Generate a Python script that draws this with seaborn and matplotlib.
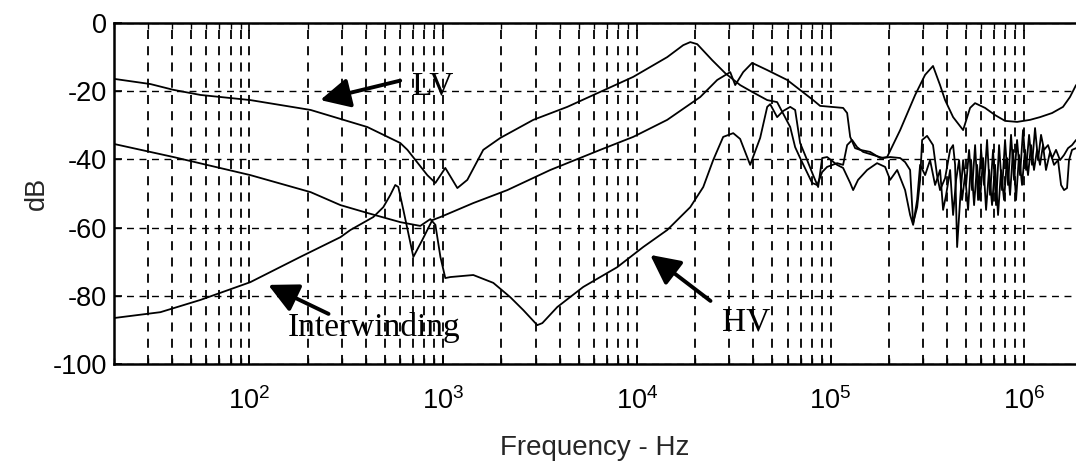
import numpy as np
import pandas as pd
import seaborn as sns
import matplotlib
matplotlib.use("Agg")
import matplotlib.pyplot as plt
from matplotlib.ticker import LogLocator, FixedLocator, NullFormatter

# ---------------- data ----------------
lv_freq = [20.1, 30.8, 40.5, 55.9, 101, 207, 406, 601, 654, 828, 912, 1026, 1184, 1333,
           1611, 1973, 2920, 4373, 6471, 9576, 14350, 17350, 18870, 20500, 24490, 28580,
           34140, 39370, 47100, 53000, 54950, 61900, 65650, 69660, 80340, 85290, 90530,
           96000, 108100, 116100, 121800, 129200, 137100, 147300, 165800, 186800, 203100,
           228800, 242700, 257500, 266900, 280000, 290000, 297000, 315000, 338100, 354500,
           367500, 390200, 414200, 429200, 439600, 450200, 466500, 483500, 500900, 519100,
           537900, 557500, 577600, 598600, 620300, 642800, 666000, 690200, 715200, 741300,
           768000, 795900, 824900, 854800, 885900, 918100, 951300, 985800, 1022000, 1059000,
           1097000, 1137000, 1178000, 1221000, 1265000, 1327000, 1392000, 1459000, 1530000,
           1605000, 1683000, 1765000, 1851000]
lv_db = [-16.4, -17.9, -19.6, -21.1, -22.6, -25.5, -30.5, -35.2, -37.2, -44.6, -46.9, -42.5,
         -48.4, -46.0, -37.2, -33.7, -28.4, -24.6, -20.2, -15.8, -10.0, -6.5, -5.6, -6.2,
         -10.9, -14.7, -18.2, -20.2, -22.6, -23.2, -24.9, -30.5, -36.4, -39.6, -46.9, -47.5,
         -43.7, -42.2, -41.1, -41.6, -35.8, -34.3, -36.4, -37.8, -38.7, -39.6, -39.3, -39.6,
         -40.8, -43.1, -58.7, -54.0, -46.0, -34.3, -33.1, -35.8, -44.6, -49.0, -45.5, -37.2,
         -35.8, -41.6, -65.7, -51.9, -40.2, -47.5, -37.2, -49.0, -35.8, -51.9, -37.2, -47.5,
         -34.3, -50.4, -37.2, -53.4, -35.8, -49.0, -34.3, -47.5, -32.8, -46.0, -34.3, -44.6,
         -31.4, -43.1, -32.8, -41.6, -30.8, -40.2, -32.8, -37.2, -35.8, -39.6, -37.2, -40.2,
         -38.7, -36.7, -35.8, -34.3]

hv_freq = [20.1, 40.5, 101, 207, 295, 406, 601, 762, 859, 912, 968, 1026, 1089, 1431, 1815,
           2221, 2594, 3062, 3252, 3883, 5288, 7920, 10780, 14350, 18870, 22020, 24780,
           27910, 31440, 34140, 38460, 43310, 47100, 48800, 53000, 56920, 61900, 65650,
           69660, 75700, 81280, 86300, 90530, 96000, 108100, 116100, 126300, 130800, 138700,
           154500, 173800, 191300, 203100, 220800, 242600, 257500, 266900, 279900, 290000,
           307700, 326500, 346500, 367700, 381100, 395000, 414200, 429200, 444800, 460900,
           477500, 494900, 512900, 531500, 550800, 570700, 591500, 612900, 635200, 658200,
           682100, 706700, 732400, 759000, 786500, 815000, 844700, 875300, 907100, 940000,
           974100, 1009000, 1046000, 1084000, 1123000, 1164000, 1206000, 1250000, 1295000,
           1359000, 1425000, 1494000, 1549000, 1605000, 1663000, 1703000, 1765000, 1851000]
hv_db = [-35.5, -39.3, -44.6, -49.6, -53.4, -55.7, -58.4, -59.5, -57.5, -59.2, -68.6, -74.8,
         -74.5, -73.9, -76.2, -80.4, -84.2, -88.6, -88.0, -83.3, -77.4, -71.6, -65.7, -60.7,
         -54.0, -48.1, -40.2, -33.4, -32.3, -34.0, -41.6, -33.7, -24.6, -23.8, -27.6, -25.8,
         -24.6, -25.5, -35.2, -40.2, -44.6, -48.1, -39.6, -39.3, -41.6, -42.5, -46.9, -49.0,
         -46.0, -43.1, -41.1, -42.2, -46.0, -43.1, -49.0, -56.3, -59.2, -51.9, -41.6, -44.6,
         -40.2, -47.5, -43.1, -54.8, -50.4, -43.1, -56.3, -46.0, -40.2, -51.9, -44.6, -54.8,
         -40.2, -53.4, -41.6, -51.9, -39.6, -54.8, -43.1, -53.4, -41.6, -56.3, -43.1, -51.9,
         -39.6, -50.4, -37.2, -51.9, -38.7, -47.5, -37.2, -44.6, -35.8, -43.1, -37.2, -41.6,
         -35.8, -43.1, -37.8, -41.6, -40.2, -47.5, -49.0, -48.4, -40.2, -37.2, -36.7]

iw_freq = [20.1, 34.7, 55.9, 101, 183, 295, 332, 436, 491, 534, 566, 587, 623, 702, 781, 879,
           968, 1431, 2144, 3574, 6471, 9576, 14350, 21250, 26000, 30340, 32200, 35400,
           39370, 47100, 59710, 81280, 88310, 116100, 121800, 126300, 133900, 142100, 160000,
           180300, 195900, 228800, 273400, 307700, 338100, 367500, 390200, 429300, 483500,
           525200, 557200, 627700, 706800, 796100, 918500, 1071000, 1206000, 1392000,
           1585000, 1722000, 1851000]
iw_db = [-86.5, -84.8, -81.2, -76.0, -68.6, -62.8, -60.7, -56.9, -54.0, -50.4, -47.5, -48.1,
         -54.8, -68.6, -63.6, -57.8, -56.9, -52.8, -49.0, -43.1, -37.2, -33.4, -28.4, -21.7,
         -16.7, -14.4, -18.2, -14.4, -11.7, -13.8, -16.7, -22.6, -24.3, -24.9, -26.4, -33.4,
         -36.7, -37.2, -37.8, -39.6, -39.3, -31.4, -21.1, -15.2, -12.6, -18.2, -22.6, -27.6,
         -31.4, -24.9, -23.5, -24.9, -27.0, -28.7, -29.0, -28.4, -27.6, -26.4, -24.6, -21.7,
         -18.2]

y_ticks = [-100, -80, -60, -40, -20, 0]
x_major = [1e2, 1e3, 1e4, 1e5, 1e6]

# annotation labels: (text, text position, arrow tail, arrow head)
labels = ["LV", "HV", "Interwinding"]
label_pos = [(690, -18.5), (27600, -87.7), (157, -89.4)]
arrow_tail = [(600, -16.9), (24000, -81.5), (256, -85.3)]
arrow_head = [(232, -22.6), (11720, -68.0), (125, -76.8)]

# ---------------- figure ----------------
sns.set_theme(style="white")
plt.rcParams["font.family"] = ["Liberation Sans", "DejaVu Sans"]
plt.rcParams["axes.edgecolor"] = "black"

fig = plt.figure(figsize=(10.76, 4.62), dpi=100)
ax = fig.add_axes([0.106, 0.2121, 0.894, 0.7381])
ax.set_facecolor("white")

for fr, db in [(lv_freq, lv_db), (hv_freq, hv_db), (iw_freq, iw_db)]:
    df = pd.DataFrame({"f": fr, "db": db})
    sns.lineplot(data=df, x="f", y="db", ax=ax, color="black", lw=1.3,
                 sort=False, estimator=None)

ax.set_xscale("log")
ax.set_xlim(20, 1.85e6)
ax.set_ylim(-100, 0)

ax.xaxis.set_major_locator(FixedLocator(x_major))
ax.xaxis.set_minor_locator(LogLocator(base=10, subs=np.arange(2, 10), numticks=20))
ax.xaxis.set_minor_formatter(NullFormatter())
ax.set_xticks(x_major)
ax.set_xticklabels([r"$\mathdefault{10^{%d}}$" % int(np.log10(v)) for v in x_major])
ax.set_yticks(y_ticks)
ax.set_yticklabels([str(v) for v in y_ticks])

dash = (0, (5, 4))
ax.grid(True, which="both", axis="x", color="black", linestyle=dash, lw=1.3)
ax.grid(True, which="major", axis="y", color="black", linestyle=dash, lw=1.0)
ax.set_axisbelow(True)

ax.tick_params(axis="both", which="both", direction="in", colors="black",
               top=True, bottom=True, left=True)
ax.tick_params(axis="x", which="major", length=6, width=1.2, labelsize=19.5, pad=17)
ax.tick_params(axis="x", which="minor", length=4, width=1.0)
ax.tick_params(axis="y", which="major", length=6, width=1.2, labelsize=19.5, pad=5)

for side in ["left", "top", "bottom"]:
    ax.spines[side].set_linewidth(1.8)
    ax.spines[side].set_color("black")
ax.spines["right"].set_visible(False)

ax.set_xlabel("Frequency - Hz", fontsize=20, labelpad=14)
ax.set_ylabel("dB", fontsize=19.5, labelpad=2)

for txt, pos, tail, head in zip(labels, label_pos, arrow_tail, arrow_head):
    ax.text(pos[0], pos[1], txt, fontsize=24, family="Liberation Serif",
            ha="left", va="center", color="black")
    ax.annotate("", xy=head, xytext=tail,
                arrowprops=dict(arrowstyle="-|>,head_length=0.9,head_width=0.45",
                                lw=2.8, color="black", mutation_scale=20,
                                shrinkA=0, shrinkB=0))

fig.savefig("out.png", dpi=100, facecolor="white")
